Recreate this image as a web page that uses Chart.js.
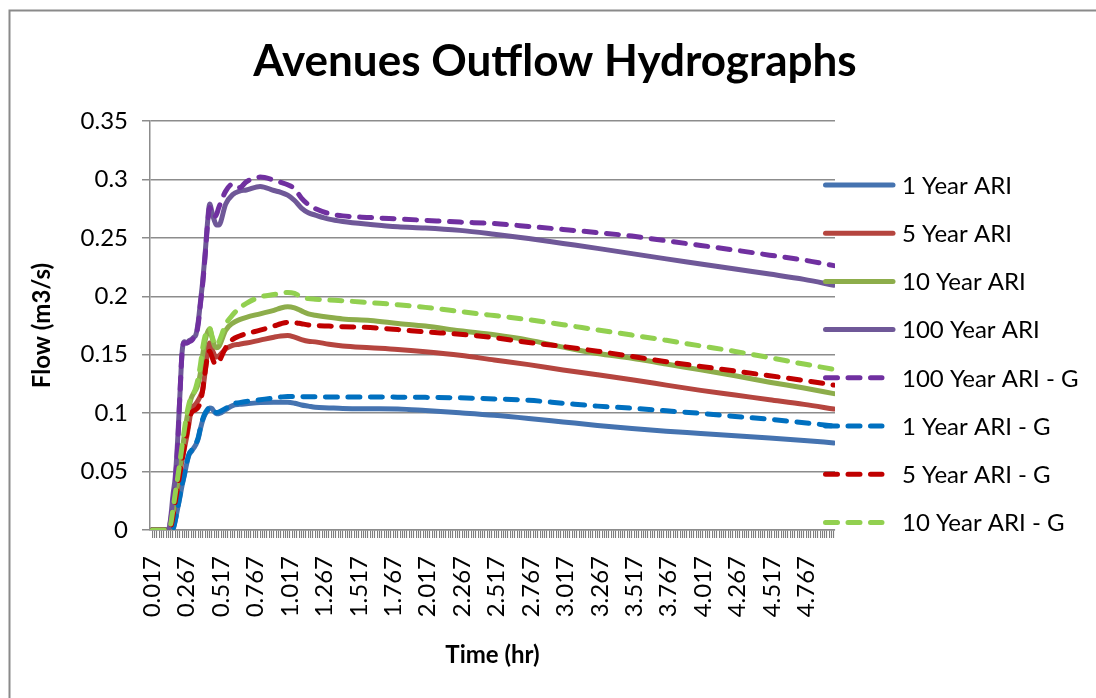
<!DOCTYPE html>
<html>
<head>
<meta charset="utf-8">
<title>Avenues Outflow Hydrographs</title>
<script src="https://cdn.jsdelivr.net/npm/chart.js@4.4.1/dist/chart.umd.min.js"></script>
<style>
  html, body { margin: 0; padding: 0; background: #fff; }
  canvas { display: block; }
</style>
</head>
<body>
<canvas id="chart" width="1096" height="698"></canvas>
<script>
// time (hr) of each reading taken off the graph
const times = [0.017, 0.1, 0.133, 0.15, 0.167, 0.183, 0.2, 0.217, 0.233, 0.25, 0.267, 0.283, 0.3, 0.317, 0.333, 0.35,
  0.367, 0.383, 0.4, 0.417, 0.433, 0.45, 0.467, 0.483, 0.5, 0.55, 0.6, 0.65, 0.7, 0.8, 0.9, 0.95, 1.0, 1.05, 1.1, 1.15,
  1.2, 1.3, 1.4, 1.6, 1.8, 2.0, 2.25, 2.5, 2.75, 3.0, 3.25, 3.5, 3.75, 4.0, 4.25, 4.5, 4.75, 4.967];

// flow (m3/s)
const ari1 = [0, 0, 0, 0, 0.001, 0.008, 0.018, 0.028, 0.038, 0.047, 0.057, 0.064, 0.067, 0.07, 0.073, 0.078,
  0.087, 0.094, 0.099, 0.102, 0.1045, 0.104, 0.101, 0.0995, 0.0995, 0.103, 0.1065, 0.1075, 0.108, 0.109, 0.1093, 0.1093,
  0.1093, 0.1085, 0.107, 0.106, 0.105, 0.1045, 0.104, 0.1037, 0.1035, 0.1022, 0.1003, 0.0982, 0.0955, 0.0925, 0.0895,
  0.0868, 0.0845, 0.0826, 0.0806, 0.0788, 0.0766, 0.0745];
const ari5 = [0, 0, 0, 0.002, 0.012, 0.024, 0.036, 0.048, 0.06, 0.07, 0.08, 0.091, 0.103, 0.106, 0.108, 0.111,
  0.115, 0.12, 0.135, 0.152, 0.16, 0.155, 0.15, 0.148, 0.149, 0.155, 0.158, 0.159, 0.16, 0.1625, 0.165, 0.166,
  0.1664, 0.165, 0.163, 0.1615, 0.161, 0.159, 0.1575, 0.156, 0.1545, 0.1525, 0.1495, 0.1455, 0.1415, 0.137, 0.1328,
  0.1285, 0.124, 0.1195, 0.1155, 0.1115, 0.1075, 0.1035];
const ari10 = [0, 0, 0, 0.003, 0.015, 0.028, 0.04, 0.053, 0.067, 0.082, 0.095, 0.105, 0.113, 0.117, 0.12, 0.125,
  0.135, 0.15, 0.162, 0.169, 0.172, 0.165, 0.158, 0.156, 0.157, 0.171, 0.177, 0.18, 0.182, 0.185, 0.188, 0.19,
  0.191, 0.19, 0.1875, 0.185, 0.1838, 0.182, 0.1806, 0.1793, 0.1768, 0.1745, 0.1705, 0.167, 0.1625, 0.1565, 0.151,
  0.147, 0.142, 0.137, 0.132, 0.1265, 0.1215, 0.1167];
const ari100 = [0, 0, 0, 0.01, 0.03, 0.045, 0.075, 0.115, 0.152, 0.161, 0.16, 0.162, 0.163, 0.165, 0.167, 0.178,
  0.196, 0.213, 0.236, 0.262, 0.279, 0.272, 0.265, 0.261, 0.261, 0.279, 0.287, 0.29, 0.291, 0.294, 0.2905, 0.289,
  0.2865, 0.282, 0.2755, 0.2715, 0.2695, 0.266, 0.264, 0.2615, 0.2595, 0.2585, 0.2564, 0.2531, 0.2494, 0.2452, 0.241,
  0.2365, 0.232, 0.2277, 0.2233, 0.219, 0.2145, 0.2095];
const ari100G = [0, 0, 0, 0.008, 0.025, 0.04, 0.07, 0.115, 0.152, 0.16, 0.16, 0.161, 0.162, 0.164, 0.166, 0.176,
  0.194, 0.211, 0.234, 0.26, 0.276, 0.272, 0.268, 0.27, 0.276, 0.29, 0.296, 0.293, 0.298, 0.302, 0.2995, 0.2975,
  0.2955, 0.292, 0.284, 0.2785, 0.275, 0.2708, 0.2688, 0.2674, 0.2662, 0.265, 0.2635, 0.2622, 0.2598, 0.2572, 0.2545,
  0.2515, 0.2475, 0.2435, 0.2395, 0.2352, 0.231, 0.2262];
const ari1G = [0, 0, 0, 0, 0.001, 0.008, 0.018, 0.029, 0.039, 0.048, 0.058, 0.065, 0.068, 0.071, 0.074, 0.079,
  0.088, 0.095, 0.1, 0.103, 0.105, 0.104, 0.102, 0.1005, 0.101, 0.104, 0.108, 0.109, 0.11, 0.1115, 0.113, 0.1138,
  0.1143, 0.1143, 0.1141, 0.114, 0.114, 0.1138, 0.1138, 0.1138, 0.1137, 0.1135, 0.1131, 0.1122, 0.111, 0.1085, 0.106,
  0.1042, 0.102, 0.0998, 0.0972, 0.0947, 0.0918, 0.089];
const ari5G = [0, 0, 0, 0.002, 0.012, 0.024, 0.036, 0.048, 0.06, 0.071, 0.082, 0.093, 0.1, 0.102, 0.103, 0.105,
  0.11, 0.12, 0.135, 0.148, 0.153, 0.148, 0.143, 0.142, 0.144, 0.156, 0.163, 0.166, 0.168, 0.171, 0.1745, 0.1765,
  0.1777, 0.1775, 0.1765, 0.1755, 0.175, 0.1745, 0.174, 0.1732, 0.1715, 0.1695, 0.1675, 0.1645, 0.1605, 0.157, 0.153,
  0.1485, 0.144, 0.14, 0.136, 0.132, 0.128, 0.124];
const ari10G = [0, 0, 0, 0.005, 0.018, 0.031, 0.044, 0.058, 0.072, 0.086, 0.099, 0.108, 0.114, 0.117, 0.122, 0.13,
  0.142, 0.156, 0.166, 0.171, 0.173, 0.166, 0.16, 0.158, 0.161, 0.176, 0.184, 0.19, 0.194, 0.1995, 0.2015, 0.2025,
  0.2033, 0.2025, 0.1995, 0.198, 0.1975, 0.1968, 0.1962, 0.1945, 0.1928, 0.1905, 0.187, 0.1835, 0.18, 0.1757, 0.1712,
  0.1668, 0.1623, 0.1575, 0.1528, 0.1475, 0.142, 0.1375];

const xTickLabels = ['0.017', '0.267', '0.517', '0.767', '1.017', '1.267', '1.517', '1.767', '2.017', '2.267',
  '2.517', '2.767', '3.017', '3.267', '3.517', '3.767', '4.017', '4.267', '4.517', '4.767'];
const yTickLabels = ['0', '0.05', '0.1', '0.15', '0.2', '0.25', '0.3', '0.35'];

const series = [
  { label: '1 Year ARI', values: ari1, color: '#4573b0', dash: [] },
  { label: '5 Year ARI', values: ari5, color: '#b5453f', dash: [] },
  { label: '10 Year ARI', values: ari10, color: '#8dad4b', dash: [] },
  { label: '100 Year ARI', values: ari100, color: '#6f5898', dash: [] },
  { label: '100 Year ARI - G', values: ari100G, color: '#7030a0', dash: [12, 10.5] },
  { label: '1 Year ARI - G', values: ari1G, color: '#0070c0', dash: [12, 10.5] },
  { label: '5 Year ARI - G', values: ari5G, color: '#c00000', dash: [12, 10.5] },
  { label: '10 Year ARI - G', values: ari10G, color: '#92d050', dash: [12, 10.5] }
];

const GRID = '#8c8c8c';
Chart.defaults.font.family = 'Lato';
Chart.defaults.color = '#000';

// white page + the cut-off frame of the original chart object
const framePlugin = {
  id: 'frame',
  beforeDraw(chart) {
    const ctx = chart.ctx;
    ctx.save();
    ctx.fillStyle = '#fff';
    ctx.fillRect(0, 0, chart.width, chart.height);
    ctx.strokeStyle = '#8a8a8a';
    ctx.lineWidth = 2;
    ctx.beginPath();
    ctx.moveTo(9.5, chart.height);
    ctx.lineTo(9.5, 10.5);
    ctx.lineTo(chart.width, 10.5);
    ctx.stroke();
    ctx.restore();
  }
};

// legend on the right, overlapping the plot edge like the Excel one
const sideLegend = {
  id: 'sideLegend',
  afterDraw(chart) {
    const ctx = chart.ctx;
    ctx.save();
    chart.data.datasets.forEach((ds, i) => {
      const y = 185 + i * 48.2;
      const dashed = ds.borderDash.length > 0;
      ctx.beginPath();
      ctx.setLineDash(ds.borderDash);
      ctx.lineCap = 'round';
      ctx.lineWidth = ds.borderWidth;
      ctx.strokeStyle = ds.borderColor;
      ctx.moveTo(825.5, y);
      ctx.lineTo(dashed ? 882 : 893, y);
      ctx.stroke();
      ctx.setLineDash([]);
      ctx.fillStyle = '#000';
      ctx.font = '24px Lato';
      ctx.textBaseline = 'middle';
      ctx.textAlign = 'left';
      ctx.fillText(ds.label, 902, y + 1);
    });
    ctx.restore();
  }
};

new Chart(document.getElementById('chart'), {
  type: 'line',
  data: {
    datasets: series.map((s, i) => ({
      label: s.label,
      data: s.values.map((v, j) => ({ x: times[j], y: v })),
      borderColor: s.color,
      backgroundColor: s.color,
      borderWidth: 5,
      borderDash: s.dash,
      borderCapStyle: 'round',
      borderJoinStyle: 'round',
      pointRadius: 0,
      cubicInterpolationMode: 'monotone',
      fill: false,
      order: series.length - i
    }))
  },
  options: {
    responsive: false,
    animation: false,
    layout: { padding: { left: 14, right: 0, top: 0, bottom: 0 } },
    plugins: {
      legend: { display: false },
      tooltip: { enabled: false },
      title: {
        display: true,
        text: 'Avenues Outflow Hydrographs',
        color: '#000',
        font: { family: 'Lato', size: 44, weight: 'bold', lineHeight: 1.2 },
        padding: { top: 35, bottom: 33.2 }
      }
    },
    scales: {
      x: {
        type: 'linear',
        position: 'bottom',
        min: 0,
        max: 4.975,
        afterBuildTicks: (scale) => {
          // one tick mark per 1-minute category, as in the source
          const ticks = [];
          for (let k = 1; k <= 298; k++) ticks.push({ value: k / 60 });
          scale.ticks = ticks;
        },
        afterFit: (scale) => { scale.height = 168; },
        grid: { drawOnChartArea: false, drawTicks: true, tickLength: 8, color: '#7f7f7f', lineWidth: 1.1 },
        border: { display: true, color: GRID, width: 1.5 },
        ticks: {
          autoSkip: false,
          minRotation: 90,
          maxRotation: 90,
          padding: 18,
          font: { size: 24 },
          callback: (v) => {
            const s = v.toFixed(3);
            return xTickLabels.includes(s) ? s : '';
          }
        },
        title: {
          display: true,
          text: 'Time (hr)',
          font: { size: 24, weight: 'bold', lineHeight: 1.2 },
          padding: { top: 0, bottom: 28.6 }
        }
      },
      y: {
        min: 0,
        max: 0.35,
        afterBuildTicks: (scale) => {
          scale.ticks = yTickLabels.map((s) => ({ value: parseFloat(s) }));
        },
        afterFit: (scale) => { scale.width = 136; },
        grid: { color: GRID, lineWidth: 1.5, tickLength: 8 },
        border: { display: true, color: GRID, width: 1.5 },
        ticks: {
          padding: 14,
          font: { size: 24 },
          callback: (v, i) => yTickLabels[i]
        },
        title: {
          display: true,
          text: 'Flow (m3/s)',
          font: { size: 24, weight: 'bold', lineHeight: 1.2 },
          padding: { top: 13.6, bottom: 0 }
        }
      },
      yR: {
        position: 'right',
        grid: { display: false },
        border: { display: false },
        ticks: { display: false },
        afterFit: (scale) => { scale.width = 261; }
      }
    }
  },
  plugins: [framePlugin, sideLegend]
});
</script>
</body>
</html>
